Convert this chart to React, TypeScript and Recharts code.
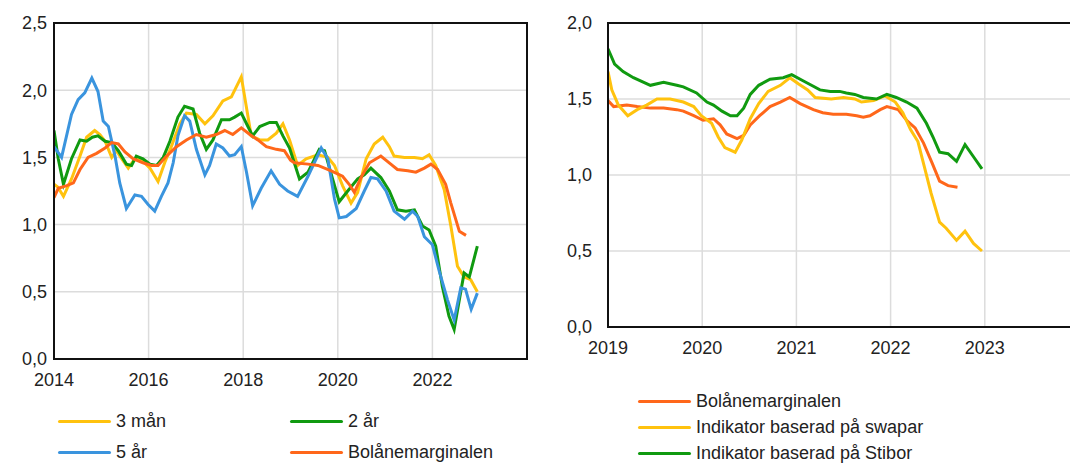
import React from 'react';
import { CartesianGrid, Line, LineChart, ReferenceArea, XAxis, YAxis } from 'recharts';

// left panel: 3 mån, 2 år, 5 år, Bolånemarginalen (2014-2022)
const tShort = [2014.0, 2014.08, 2014.2, 2014.37, 2014.55, 2014.69, 2014.86, 2014.97, 2015.08, 2015.22, 2015.32, 2015.43, 2015.57, 2015.71, 2015.88, 2016.03, 2016.2, 2016.34, 2016.48, 2016.66, 2016.8, 2017.01, 2017.19, 2017.36, 2017.57, 2017.75, 2017.96, 2018.17, 2018.35, 2018.52, 2018.7, 2018.84, 2018.98, 2019.15, 2019.33, 2019.58, 2019.79, 2019.93, 2020.1, 2020.28, 2020.42, 2020.6, 2020.77, 2020.95, 2021.09, 2021.19, 2021.41, 2021.62, 2021.79, 2021.93, 2022.07, 2022.25, 2022.39, 2022.53, 2022.67, 2022.81, 2022.95];
const vShort = [1.30, 1.28, 1.21, 1.34, 1.51, 1.65, 1.70, 1.67, 1.62, 1.50, 1.55, 1.49, 1.42, 1.49, 1.47, 1.42, 1.32, 1.46, 1.58, 1.75, 1.83, 1.82, 1.75, 1.81, 1.92, 1.95, 2.10, 1.66, 1.63, 1.63, 1.68, 1.75, 1.63, 1.44, 1.49, 1.52, 1.50, 1.44, 1.29, 1.16, 1.24, 1.49, 1.60, 1.65, 1.58, 1.51, 1.50, 1.50, 1.49, 1.52, 1.44, 1.26, 0.99, 0.69, 0.61, 0.59, 0.50];

const t2y = [2014.0, 2014.09, 2014.2, 2014.37, 2014.55, 2014.69, 2014.81, 2014.93, 2015.08, 2015.22, 2015.36, 2015.53, 2015.64, 2015.74, 2015.88, 2016.03, 2016.17, 2016.31, 2016.45, 2016.62, 2016.76, 2016.94, 2017.08, 2017.22, 2017.36, 2017.54, 2017.71, 2017.82, 2017.96, 2018.1, 2018.2, 2018.35, 2018.56, 2018.7, 2018.84, 2018.98, 2019.19, 2019.37, 2019.61, 2019.72, 2019.89, 2020.03, 2020.21, 2020.42, 2020.56, 2020.7, 2020.91, 2021.09, 2021.26, 2021.44, 2021.62, 2021.79, 2021.93, 2022.07, 2022.21, 2022.35, 2022.46, 2022.57, 2022.67, 2022.78, 2022.95];
const v2y = [1.70, 1.49, 1.30, 1.49, 1.63, 1.62, 1.65, 1.66, 1.62, 1.61, 1.55, 1.45, 1.44, 1.51, 1.49, 1.45, 1.44, 1.50, 1.62, 1.80, 1.88, 1.86, 1.68, 1.56, 1.63, 1.78, 1.78, 1.80, 1.83, 1.73, 1.66, 1.73, 1.76, 1.76, 1.66, 1.57, 1.34, 1.39, 1.56, 1.55, 1.34, 1.17, 1.25, 1.34, 1.37, 1.42, 1.35, 1.25, 1.11, 1.10, 1.11, 0.99, 0.96, 0.84, 0.54, 0.32, 0.22, 0.44, 0.64, 0.61, 0.84];

const t5y = [2014.0, 2014.16, 2014.37, 2014.51, 2014.65, 2014.8, 2014.93, 2015.04, 2015.15, 2015.29, 2015.39, 2015.53, 2015.71, 2015.85, 2015.99, 2016.13, 2016.27, 2016.41, 2016.52, 2016.62, 2016.76, 2016.87, 2017.01, 2017.19, 2017.29, 2017.43, 2017.57, 2017.71, 2017.82, 2017.96, 2018.07, 2018.2, 2018.38, 2018.59, 2018.77, 2018.94, 2019.15, 2019.37, 2019.65, 2019.79, 2019.93, 2020.03, 2020.18, 2020.39, 2020.56, 2020.7, 2020.84, 2021.02, 2021.19, 2021.41, 2021.58, 2021.69, 2021.83, 2022.0, 2022.14, 2022.32, 2022.46, 2022.6, 2022.7, 2022.82, 2022.95];
const v5y = [1.58, 1.50, 1.82, 1.93, 1.98, 2.09, 1.99, 1.77, 1.73, 1.51, 1.31, 1.12, 1.22, 1.21, 1.15, 1.10, 1.21, 1.31, 1.46, 1.66, 1.81, 1.77, 1.56, 1.37, 1.44, 1.60, 1.57, 1.51, 1.52, 1.58, 1.39, 1.14, 1.27, 1.40, 1.30, 1.25, 1.21, 1.36, 1.57, 1.49, 1.19, 1.05, 1.06, 1.12, 1.25, 1.35, 1.34, 1.25, 1.10, 1.04, 1.10, 1.06, 0.91, 0.85, 0.66, 0.44, 0.29, 0.53, 0.52, 0.37, 0.49];

const tBolL = [2014.0, 2014.09, 2014.27, 2014.41, 2014.55, 2014.72, 2014.9, 2015.08, 2015.22, 2015.36, 2015.5, 2015.67, 2015.88, 2016.06, 2016.2, 2016.38, 2016.59, 2016.8, 2017.01, 2017.22, 2017.43, 2017.61, 2017.78, 2017.96, 2018.14, 2018.31, 2018.49, 2018.7, 2018.87, 2019.0, 2019.08, 2019.37, 2019.58, 2019.86, 2020.1, 2020.24, 2020.35, 2020.49, 2020.67, 2020.91, 2021.12, 2021.26, 2021.48, 2021.65, 2021.83, 2021.97, 2022.11, 2022.28, 2022.39, 2022.57, 2022.71];
const vBolL = [1.20, 1.27, 1.29, 1.31, 1.41, 1.50, 1.53, 1.57, 1.61, 1.60, 1.54, 1.49, 1.46, 1.44, 1.44, 1.51, 1.58, 1.63, 1.67, 1.65, 1.67, 1.70, 1.67, 1.72, 1.67, 1.63, 1.58, 1.56, 1.55, 1.48, 1.46, 1.45, 1.44, 1.40, 1.36, 1.30, 1.24, 1.35, 1.46, 1.51, 1.45, 1.41, 1.40, 1.39, 1.42, 1.45, 1.41, 1.30, 1.16, 0.95, 0.92];

// right panel: Bolånemarginalen and the two indicators (2019-2022)
const tBolR = [2019.0, 2019.06, 2019.2, 2019.31, 2019.45, 2019.59, 2019.73, 2019.8, 2019.91, 2020.01, 2020.12, 2020.19, 2020.26, 2020.37, 2020.44, 2020.51, 2020.61, 2020.72, 2020.83, 2020.93, 2021.04, 2021.18, 2021.28, 2021.39, 2021.53, 2021.64, 2021.71, 2021.78, 2021.89, 2021.96, 2022.08, 2022.17, 2022.26, 2022.35, 2022.44, 2022.52, 2022.61, 2022.71];
const vBolR = [1.49, 1.45, 1.46, 1.45, 1.44, 1.44, 1.43, 1.42, 1.39, 1.36, 1.37, 1.33, 1.27, 1.24, 1.26, 1.33, 1.39, 1.45, 1.48, 1.51, 1.47, 1.43, 1.41, 1.40, 1.40, 1.39, 1.38, 1.39, 1.43, 1.45, 1.43, 1.36, 1.31, 1.21, 1.08, 0.96, 0.93, 0.92];

const tSwap = [2019.0, 2019.04, 2019.11, 2019.21, 2019.31, 2019.41, 2019.52, 2019.66, 2019.8, 2019.91, 2019.99, 2020.1, 2020.17, 2020.24, 2020.35, 2020.42, 2020.51, 2020.6, 2020.7, 2020.83, 2020.93, 2021.02, 2021.12, 2021.2, 2021.37, 2021.5, 2021.62, 2021.69, 2021.82, 2021.94, 2022.05, 2022.13, 2022.21, 2022.29, 2022.36, 2022.43, 2022.52, 2022.59, 2022.7, 2022.79, 2022.88, 2022.97];
const vSwap = [1.68, 1.56, 1.46, 1.39, 1.43, 1.46, 1.50, 1.50, 1.48, 1.45, 1.39, 1.34, 1.25, 1.18, 1.15, 1.23, 1.37, 1.47, 1.55, 1.59, 1.64, 1.60, 1.56, 1.51, 1.50, 1.51, 1.50, 1.48, 1.49, 1.52, 1.48, 1.41, 1.30, 1.22, 1.05, 0.88, 0.69, 0.65, 0.57, 0.63, 0.55, 0.50];

const tStibor = [2019.0, 2019.07, 2019.16, 2019.27, 2019.45, 2019.59, 2019.73, 2019.8, 2019.94, 2020.05, 2020.12, 2020.21, 2020.3, 2020.37, 2020.44, 2020.51, 2020.6, 2020.72, 2020.86, 2020.95, 2021.07, 2021.13, 2021.25, 2021.36, 2021.46, 2021.53, 2021.62, 2021.71, 2021.85, 2021.96, 2022.06, 2022.17, 2022.28, 2022.38, 2022.45, 2022.52, 2022.61, 2022.7, 2022.79, 2022.88, 2022.97];
const vStibor = [1.83, 1.73, 1.68, 1.64, 1.59, 1.61, 1.59, 1.58, 1.54, 1.48, 1.46, 1.42, 1.39, 1.39, 1.44, 1.53, 1.59, 1.63, 1.64, 1.66, 1.62, 1.60, 1.56, 1.55, 1.55, 1.54, 1.53, 1.51, 1.50, 1.53, 1.51, 1.48, 1.44, 1.34, 1.25, 1.15, 1.14, 1.09, 1.20, 1.12, 1.04];

const leftXTicks = [2014, 2016, 2018, 2020, 2022];
const leftYTicks = [0, 0.5, 1, 1.5, 2, 2.5];
const rightXTicks = [2019, 2020, 2021, 2022, 2023];
const rightYTicks = [0, 0.5, 1, 1.5, 2];

const YELLOW = '#FFC20E';
const GREEN = '#109A10';
const BLUE = '#3A94DE';
const ORANGE = '#FF671A';
const FONT = '"Liberation Sans", Arial, sans-serif';

const toPoints = (ts: number[], vs: number[]) => ts.map((t, i) => ({ t, v: vs[i] }));
const fmtY = (v: number) => v.toFixed(1).replace('.', ',');

function LegendItem({ x, y, color, label }: { x: number; y: number; color: string; label: string }) {
  return (
    <div style={{ position: 'absolute', left: x, top: y - 11, height: 22, display: 'flex', alignItems: 'center' }}>
      <div style={{ width: 53, height: 3, borderRadius: 2, background: color, marginRight: 5 }} />
      <span style={{ fontSize: 18, color: '#222', whiteSpace: 'nowrap' }}>{label}</span>
    </div>
  );
}

export default function App() {
  const tick = { fill: '#222', fontSize: 18, fontFamily: FONT };
  return (
    <div style={{ position: 'absolute', left: 0, top: 0, width: 1070, height: 463, overflow: 'hidden', background: '#fff', fontFamily: FONT }}>
      <div style={{ position: 'absolute', left: 0, top: 0 }}>
        <LineChart width={540} height={400} margin={{ top: 23, right: 13, bottom: 11, left: 0 }}>
          <CartesianGrid stroke="#DCDCDC" strokeWidth={1.5} />
          <XAxis type="number" dataKey="t" domain={[2014, 2024]} ticks={leftXTicks} allowDataOverflow
            tickLine={false} axisLine={{ stroke: '#111', strokeWidth: 2 }} tick={tick} tickMargin={8} />
          <YAxis type="number" domain={[0, 2.5]} ticks={leftYTicks} width={54} tickFormatter={fmtY}
            tickLine={false} axisLine={{ stroke: '#111', strokeWidth: 2 }} tick={tick} tickMargin={1} />
          <ReferenceArea x1={2014} x2={2024} y1={0} y2={2.5} fill="none" stroke="#111" strokeWidth={2} />
          <Line data={toPoints(tShort, vShort)} dataKey="v" stroke={YELLOW} strokeWidth={3} dot={false} isAnimationActive={false} />
          <Line data={toPoints(t2y, v2y)} dataKey="v" stroke={GREEN} strokeWidth={3} dot={false} isAnimationActive={false} />
          <Line data={toPoints(t5y, v5y)} dataKey="v" stroke={BLUE} strokeWidth={3} dot={false} isAnimationActive={false} />
          <Line data={toPoints(tBolL, vBolL)} dataKey="v" stroke={ORANGE} strokeWidth={3} dot={false} isAnimationActive={false} />
        </LineChart>
      </div>
      <div style={{ position: 'absolute', left: 550, top: 0 }}>
        <LineChart width={540} height={370} margin={{ top: 23, right: 11, bottom: 13, left: 0 }}>
          <CartesianGrid stroke="#DCDCDC" strokeWidth={1.5} />
          <XAxis type="number" dataKey="t" domain={[2019, 2024]} ticks={rightXTicks} allowDataOverflow
            tickLine={false} axisLine={{ stroke: '#111', strokeWidth: 2 }} tick={tick} tickMargin={8} />
          <YAxis type="number" domain={[0, 2]} ticks={rightYTicks} width={58} tickFormatter={fmtY}
            tickLine={false} axisLine={{ stroke: '#111', strokeWidth: 2 }} tick={tick} tickMargin={10} />
          <ReferenceArea x1={2019} x2={2024} y1={0} y2={2} fill="none" stroke="#111" strokeWidth={2} />
          <Line data={toPoints(tBolR, vBolR)} dataKey="v" stroke={ORANGE} strokeWidth={3} dot={false} isAnimationActive={false} />
          <Line data={toPoints(tSwap, vSwap)} dataKey="v" stroke={YELLOW} strokeWidth={3} dot={false} isAnimationActive={false} />
          <Line data={toPoints(tStibor, vStibor)} dataKey="v" stroke={GREEN} strokeWidth={3} dot={false} isAnimationActive={false} />
        </LineChart>
      </div>
      <LegendItem x={58} y={421} color={YELLOW} label="3 mån" />
      <LegendItem x={290} y={421} color={GREEN} label="2 år" />
      <LegendItem x={58} y={452} color={BLUE} label="5 år" />
      <LegendItem x={290} y={452} color={ORANGE} label="Bolånemarginalen" />
      <LegendItem x={638} y={401} color={ORANGE} label="Bolånemarginalen" />
      <LegendItem x={638} y={427} color={YELLOW} label="Indikator baserad på swapar" />
      <LegendItem x={638} y={453} color={GREEN} label="Indikator baserad på Stibor" />
    </div>
  );
}
